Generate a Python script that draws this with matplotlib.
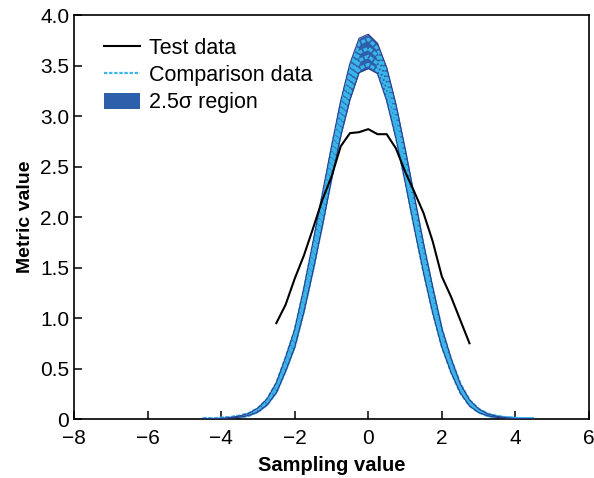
import matplotlib.pyplot as plt
import numpy as np

plt.rcParams['font.family'] = ['Liberation Sans', 'DejaVu Sans']

# test data (black line)
test_x = [-2.5, -2.25, -2.0, -1.75, -1.5, -1.25, -1.0, -0.75, -0.5, -0.25, 0.0,
          0.25, 0.5, 0.75, 1.0, 1.25, 1.5, 1.75, 2.0, 2.25, 2.5, 2.75]
test_y = [0.95, 1.13, 1.39, 1.62, 1.89, 2.17, 2.40, 2.70, 2.83, 2.84, 2.87,
          2.82, 2.82, 2.68, 2.45, 2.25, 2.04, 1.76, 1.41, 1.21, 0.98, 0.75]

# comparison runs + 2.5 sigma band, sampled every 0.25
band_x = [-4.5, -4.25, -4.0, -3.75, -3.5, -3.25, -3.0, -2.75, -2.5, -2.25, -2.0,
          -1.75, -1.5, -1.25, -1.0, -0.75, -0.5, -0.25, 0.0, 0.25, 0.5, 0.75,
          1.0, 1.25, 1.5, 1.75, 2.0, 2.25, 2.5, 2.75, 3.0, 3.25, 3.5, 3.75,
          4.0, 4.25, 4.5]
band_hi = [0.001, 0.003, 0.007, 0.015, 0.03, 0.055, 0.11, 0.20, 0.36, 0.61, 0.89,
           1.30, 1.76, 2.23, 2.70, 3.15, 3.52, 3.77, 3.81, 3.72, 3.48, 3.12,
           2.68, 2.21, 1.74, 1.31, 0.90, 0.60, 0.35, 0.19, 0.10, 0.05, 0.026, 0.013,
           0.006, 0.002, 0.001]
band_lo = [0.0, 0.001, 0.003, 0.008, 0.018, 0.035, 0.07, 0.14, 0.26, 0.47, 0.71,
           1.06, 1.47, 1.91, 2.37, 2.80, 3.16, 3.43, 3.47, 3.42, 3.15, 2.78,
           2.35, 1.89, 1.45, 1.05, 0.71, 0.46, 0.26, 0.13, 0.065, 0.032, 0.016, 0.007,
           0.003, 0.001, 0.0]

comp_a = [0.001, 0.003, 0.006, 0.014, 0.028, 0.052, 0.10, 0.19, 0.345, 0.59, 0.86,
          1.26, 1.71, 2.18, 2.65, 3.10, 3.47, 3.72, 3.76, 3.67, 3.43, 3.07,
          2.63, 2.16, 1.70, 1.27, 0.87, 0.58, 0.34, 0.18, 0.095, 0.047, 0.024, 0.012,
          0.005, 0.002, 0.001]
comp_b = [0.001, 0.002, 0.005, 0.012, 0.025, 0.047, 0.094, 0.176, 0.32, 0.554, 0.818,
          1.20, 1.64, 2.10, 2.57, 3.01, 3.38, 3.63, 3.67, 3.60, 3.35, 2.98,
          2.55, 2.08, 1.62, 1.21, 0.82, 0.544, 0.314, 0.166, 0.086, 0.043, 0.022, 0.011,
          0.005, 0.002, 0.001]
comp_c = [0.0, 0.002, 0.004, 0.010, 0.022, 0.042, 0.084, 0.161, 0.295, 0.519, 0.773,
          1.144, 1.57, 2.02, 2.49, 2.92, 3.29, 3.55, 3.59, 3.52, 3.27, 2.90,
          2.47, 2.00, 1.55, 1.14, 0.776, 0.509, 0.29, 0.151, 0.077, 0.038, 0.020, 0.009,
          0.004, 0.001, 0.0]
comp_d = [0.0, 0.001, 0.003, 0.009, 0.019, 0.037, 0.075, 0.147, 0.272, 0.487, 0.732,
          1.09, 1.50, 1.95, 2.41, 2.84, 3.20, 3.47, 3.51, 3.45, 3.19, 2.82,
          2.39, 1.93, 1.48, 1.08, 0.733, 0.477, 0.27, 0.138, 0.069, 0.034, 0.017, 0.008,
          0.003, 0.001, 0.0]

fig = plt.figure(figsize=(5.94, 4.78), dpi=100)
ax = fig.add_axes([0.1246, 0.1234, 0.8670, 0.8452])

navy = '#2a3b8f'
fill_col = '#2e5fab'
cyan = '#3ab6e8'

ax.fill_between(band_x, band_lo, band_hi, color=fill_col, lw=0, zorder=1,
                label='2.5\u03c3 region')
for i, c in enumerate([comp_a, comp_b, comp_c, comp_d]):
    ax.plot(band_x, c, color=cyan, lw=2.4, ls=(0, (1.2, 0.5)), zorder=2,
            label='Comparison data' if i == 0 else None)
ax.plot(band_x, band_hi, color=navy, lw=0.8, zorder=3)
ax.plot(band_x, band_lo, color=navy, lw=0.8, zorder=3)
ax.plot(test_x, test_y, color='black', lw=1.5, zorder=4, label='Test data')

ax.set_xlim(-8, 6)
ax.set_ylim(0, 4)
ax.set_xticks(np.arange(-8, 7, 2))
ax.set_yticks(np.arange(0, 4.01, 0.5))
ax.set_yticklabels(['0', '0.5', '1.0', '1.5', '2.0', '2.5', '3.0', '3.5', '4.0'])
ax.tick_params(direction='in', length=6, width=1.1, labelsize=15)
ax.tick_params(axis='y', pad=3.5)
ax.tick_params(axis='x', pad=7)
for s in ax.spines.values():
    s.set_linewidth(1.2)

ax.set_xlabel('Sampling value', fontsize=14.5, fontweight='bold', labelpad=6)
ax.set_ylabel('Metric value', fontsize=14, fontweight='bold', labelpad=4.5)

h, l = ax.get_legend_handles_labels()
order = [l.index('Test data'), l.index('Comparison data'), l.index('2.5\u03c3 region')]
# the dotted handle is drawn thinner than the band lines
h[order[1]] = plt.Line2D([], [], color=cyan, lw=1.6, ls=(0, (1.5, 0.8)))
leg = ax.legend([h[i] for i in order], [l[i] for i in order], loc='upper left',
                bbox_to_anchor=(0.037, 0.97), frameon=False, fontsize=15.5,
                borderpad=0, handlelength=1.7, handletextpad=0.4, labelspacing=0.29,
                handleheight=0.8)

plt.savefig('out.png', dpi=100)
